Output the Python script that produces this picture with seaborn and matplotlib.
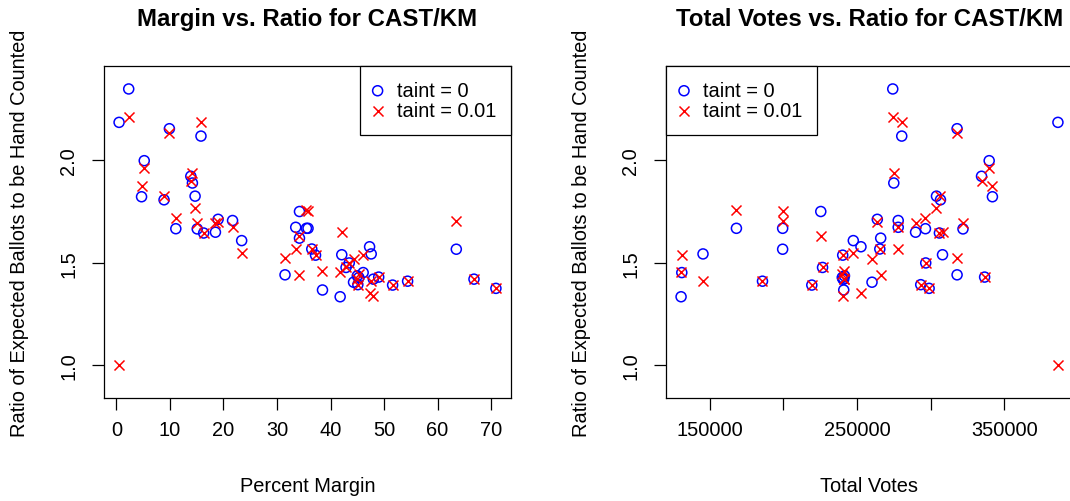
import matplotlib
matplotlib.use("Agg")
import matplotlib.pyplot as plt
import seaborn as sns
import pandas as pd

# ---- data (one entry per contest) ----
margin = [0.5, 2.3, 9.9, 15.8, 5.2, 13.9, 14.2, 4.7, 14.7, 8.9,
          19.0, 21.7, 18.5, 11.1, 16.3, 15.1, 23.4, 35.5, 35.8, 63.5,
          34.2, 34.2, 33.5, 31.5, 36.5, 37.2, 42.1, 38.5, 41.8, 46.1,
          47.6, 54.4, 51.6, 42.9, 43.5, 45.1, 44.3, 70.9, 49.0, 47.3,
          66.8, 48.0, 45.3, 45.0]
votes = [386500, 274300, 318000, 280400, 339800, 334600, 275000, 342000, 304000, 306700,
         263800, 278000, 289800, 296500, 306000, 322000, 247500, 168100, 199500, 199500,
         225400, 266100, 278000, 318000, 265500, 240300, 308100, 241000, 130500, 131000,
         145400, 185800, 219300, 226600, 296700, 293300, 260200, 299000, 336700, 252700,
         241000, 240500, 240000, 241500]
ratio_taint0 = [2.185, 2.348, 2.154, 2.118, 1.998, 1.922, 1.889, 1.822, 1.825, 1.807,
                1.712, 1.706, 1.649, 1.666, 1.645, 1.665, 1.608, 1.668, 1.668, 1.566,
                1.750, 1.620, 1.673, 1.441, 1.567, 1.537, 1.539, 1.367, 1.334, 1.452,
                1.543, 1.410, 1.391, 1.477, 1.499, 1.393, 1.405, 1.375, 1.430, 1.578,
                1.420, 1.420, 1.428, 1.436]
ratio_taint001 = [1.000, 2.209, 2.135, 2.186, 1.964, 1.897, 1.938, 1.874, 1.765, 1.825,
                  1.697, 1.675, 1.693, 1.718, 1.644, 1.695, 1.546, 1.755, 1.752, 1.702,
                  1.632, 1.441, 1.569, 1.524, 1.567, 1.537, 1.649, 1.459, 1.457, 1.537,
                  1.413, 1.410, 1.391, 1.477, 1.499, 1.393, 1.520, 1.375, 1.430, 1.352,
                  1.420, 1.338, 1.445, 1.420]

labels_taint = ["taint = 0", "taint = 0.01"]
titles = ["Margin vs. Ratio for CAST/KM", "Total Votes vs. Ratio for CAST/KM"]
xlabels = ["Percent Margin", "Total Votes"]
ylabel = "Ratio of Expected Ballots to be Hand Counted"
x1_ticks = [0, 10, 20, 30, 40, 50, 60, 70]
x2_ticks = [150000, 200000, 250000, 300000, 350000]
x2_ticklabels = ["150000", "", "250000", "", "350000"]
y_ticks = [1.0, 1.5, 2.0]
y_ticklabels = ["1.0", "1.5", "2.0"]
y_range = (0.9, 2.4)

df = pd.DataFrame({"margin": margin, "votes": votes,
                   "r0": ratio_taint0, "r1": ratio_taint001})

sns.set_theme(style="ticks")
plt.rcParams["font.family"] = ["Liberation Sans", "DejaVu Sans"]
plt.rcParams["axes.linewidth"] = 0.9
plt.rcParams["axes.edgecolor"] = "black"
plt.rcParams["text.color"] = "black"
plt.rcParams["axes.labelcolor"] = "black"
plt.rcParams["axes.titlecolor"] = "black"
plt.rcParams["xtick.color"] = "black"
plt.rcParams["ytick.color"] = "black"
plt.rcParams["legend.labelcolor"] = "black"

W, H = 1070, 502
fig = plt.figure(figsize=(W / 100, H / 100), dpi=100)
ax1 = fig.add_axes([104 / W, (H - 399) / H, 407 / W, 332 / H])
ax2 = fig.add_axes([666 / W, (H - 399) / H, 407 / W, 332 / H])

FS = 14.4
MS = 52


def r_pad(lo, hi):
    d = (hi - lo) * 0.04
    return lo - d, hi + d


for ax, xcol, title, xlab, legloc in [
        (ax1, "margin", titles[0], xlabels[0], "upper right"),
        (ax2, "votes", titles[1], xlabels[1], "upper left")]:
    sns.scatterplot(data=df, x=xcol, y="r0", ax=ax, marker="o", s=MS,
                    facecolors="none", edgecolor="blue", linewidth=1.1,
                    label=labels_taint[0])
    sns.scatterplot(data=df, x=xcol, y="r1", ax=ax, marker="x", s=MS,
                    color="red", linewidth=1.1, label=labels_taint[1])
    ax.set_xlim(*r_pad(df[xcol].min(), df[xcol].max()))
    ax.set_ylim(*r_pad(*y_range))
    ax.set_yticks(y_ticks)
    ax.set_yticklabels(y_ticklabels, rotation=90, va="center")
    ax.tick_params(axis="both", direction="out", length=8.6, width=0.9,
                   colors="black", labelsize=FS, labelcolor="black")
    ax.tick_params(axis="x", pad=7)
    ax.tick_params(axis="y", pad=10)
    ax.set_title(title, fontsize=FS * 1.2, fontweight="bold", pad=29.5,
                 color="black")
    ax.set_xlabel(xlab, fontsize=FS, labelpad=27, color="black")
    ax.set_ylabel(ylabel, fontsize=FS, labelpad=21.5, color="black")
    for sp in ax.spines.values():
        sp.set_visible(True)
        sp.set_color("black")
        sp.set_linewidth(0.9)
    leg = ax.legend(loc=legloc, borderaxespad=0, fontsize=FS, fancybox=False,
                    framealpha=1, edgecolor="black", borderpad=0.75,
                    handlelength=0.3, handletextpad=0.8, labelspacing=0.05)
    leg.get_frame().set_linewidth(0.9)
    for t in leg.get_texts():
        t.set_color("black")

ax1.set_xticks(x1_ticks)
ax1.set_xticklabels([str(t) for t in x1_ticks])
ax2.set_xticks(x2_ticks)
ax2.set_xticklabels(x2_ticklabels)

fig.savefig("out.png", dpi=100, facecolor="white")
